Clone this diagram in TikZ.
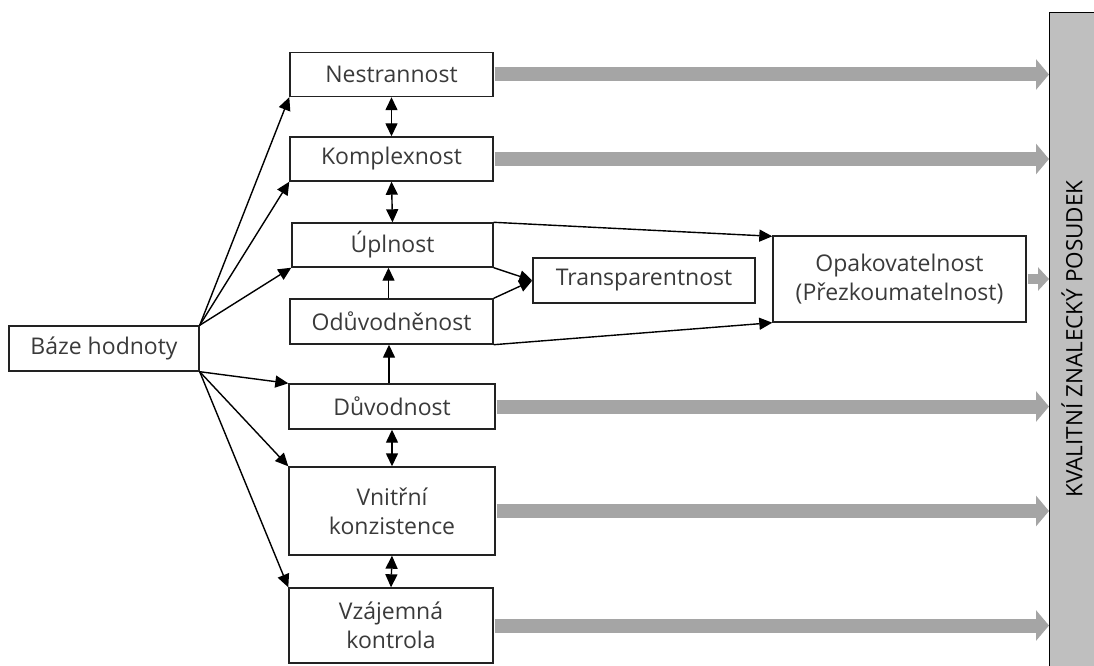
\documentclass[tikz,border=0pt]{standalone}
\usepackage{fontspec}
\setmainfont{Open Sans}
\usetikzlibrary{arrows.meta}
\definecolor{txt}{HTML}{3A3A3A}
\definecolor{arrgray}{HTML}{A5A5A5}
\definecolor{bargray}{HTML}{BFBFBF}
\definecolor{edgec}{HTML}{222222}
\begin{document}
\begin{tikzpicture}[x=1pt,y=-1pt,
  box/.style={draw=edgec, line width=1.4pt, text=txt, font=\fontsize{23}{29}\selectfont, align=center, inner sep=0pt},
  tipb/.tip={Triangle[length=13pt,width=12pt]},
  link/.style={draw=black, line width=1.4pt, -tipb},
  twoway/.style={draw=black, line width=1.4pt, tipb-tipb},
  fat/.style={draw=arrgray, line width=14pt, -{Triangle[length=13pt,width=30pt]}},
  slim/.style={draw=arrgray, line width=10pt, -{Triangle[length=11pt,width=23pt]}}
]
\useasboundingbox (0,0) rectangle (1094,666);
% right bar
\node[draw=black, line width=1.4pt, fill=bargray, minimum width=80pt, minimum height=700pt, anchor=north west, inner sep=0pt] (bar) at (1049,12) {};
\node[rotate=90, font=\fontsize{22.5}{27}\selectfont, text=black] (bartext) at (1072,339) {KVALITNÍ ZNALECKÝ POSUDEK};
% boxes
\node[box, minimum width=190pt, minimum height=45pt] (baze) at (104,348.5) {Báze hodnoty};
\node[box, minimum width=203pt, minimum height=44pt] (nest) at (391.5,74.5) {Nestrannost};
\node[box, minimum width=203pt, minimum height=44pt] (kompl) at (391.5,159) {Komplexnost};
\node[box, minimum width=201pt, minimum height=44pt] (upl) at (392.5,245) {Úplnost};
\node[box, minimum width=203pt, minimum height=45pt] (odu) at (391.5,321.5) {Odůvodněnost};
\node[box, minimum width=206pt, minimum height=45pt] (duv) at (392,406.5) {Důvodnost};
\node[box, minimum width=206pt, minimum height=88pt] (vni) at (392,511) {Vnitřní\\konzistence};
\node[box, minimum width=204pt, minimum height=75pt] (vza) at (391,625.5) {Vzájemná\\kontrola};
\node[box, minimum width=222pt, minimum height=45pt] (trans) at (644,280.5) {Transparentnost};
\node[box, minimum width=253pt, minimum height=86pt] (opak) at (899.5,279) {Opakovatelnost\\(Přezkoumatelnost)};
% from base
\draw[link] (baze.north east) -- (nest.south west);
\draw[link] (baze.north east) -- (kompl.south west);
\draw[link] (baze.north east) -- (upl.south west);
\draw[link] (baze.south east) -- (duv.north west);
\draw[link] (baze.south east) -- (vni.north west);
\draw[link] (baze.south east) -- (vza.north west);
% vertical links
\draw[twoway] (nest.south) -- (kompl.north);
\draw[twoway] (kompl.south) -- (upl.north);
\draw[twoway] (duv.south) -- (vni.north);
\draw[twoway] (vni.south) -- (vza.north);
\draw[link] ([xshift=-3pt]duv.north) -- ([xshift=-3pt]duv.north |- odu.south);
\draw[link] ([xshift=-3pt]odu.north) -- ([xshift=-3pt]odu.north |- upl.south);
% to transparentnost and opakovatelnost
\draw[link] (upl.south east) -- (trans.west);
\draw[link] (odu.north east) -- (trans.west);
\draw[link] (upl.north east) -- ([yshift=-1pt]opak.north west);
\draw[link] (odu.south east) -- (opak.south west);
% grey arrows to the bar
\draw[fat] ([xshift=1pt]nest.east) -- (nest.east -| bar.west);
\draw[fat] ([xshift=1pt]kompl.east) -- (kompl.east -| bar.west);
\draw[fat] ([xshift=1pt]duv.east) -- (duv.east -| bar.west);
\draw[fat] ([xshift=1pt]vni.east) -- (vni.east -| bar.west);
\draw[fat] ([xshift=1pt]vza.east) -- (vza.east -| bar.west);
\draw[slim] ([xshift=1pt]opak.east) -- (opak.east -| bar.west);
\end{tikzpicture}
\end{document}
